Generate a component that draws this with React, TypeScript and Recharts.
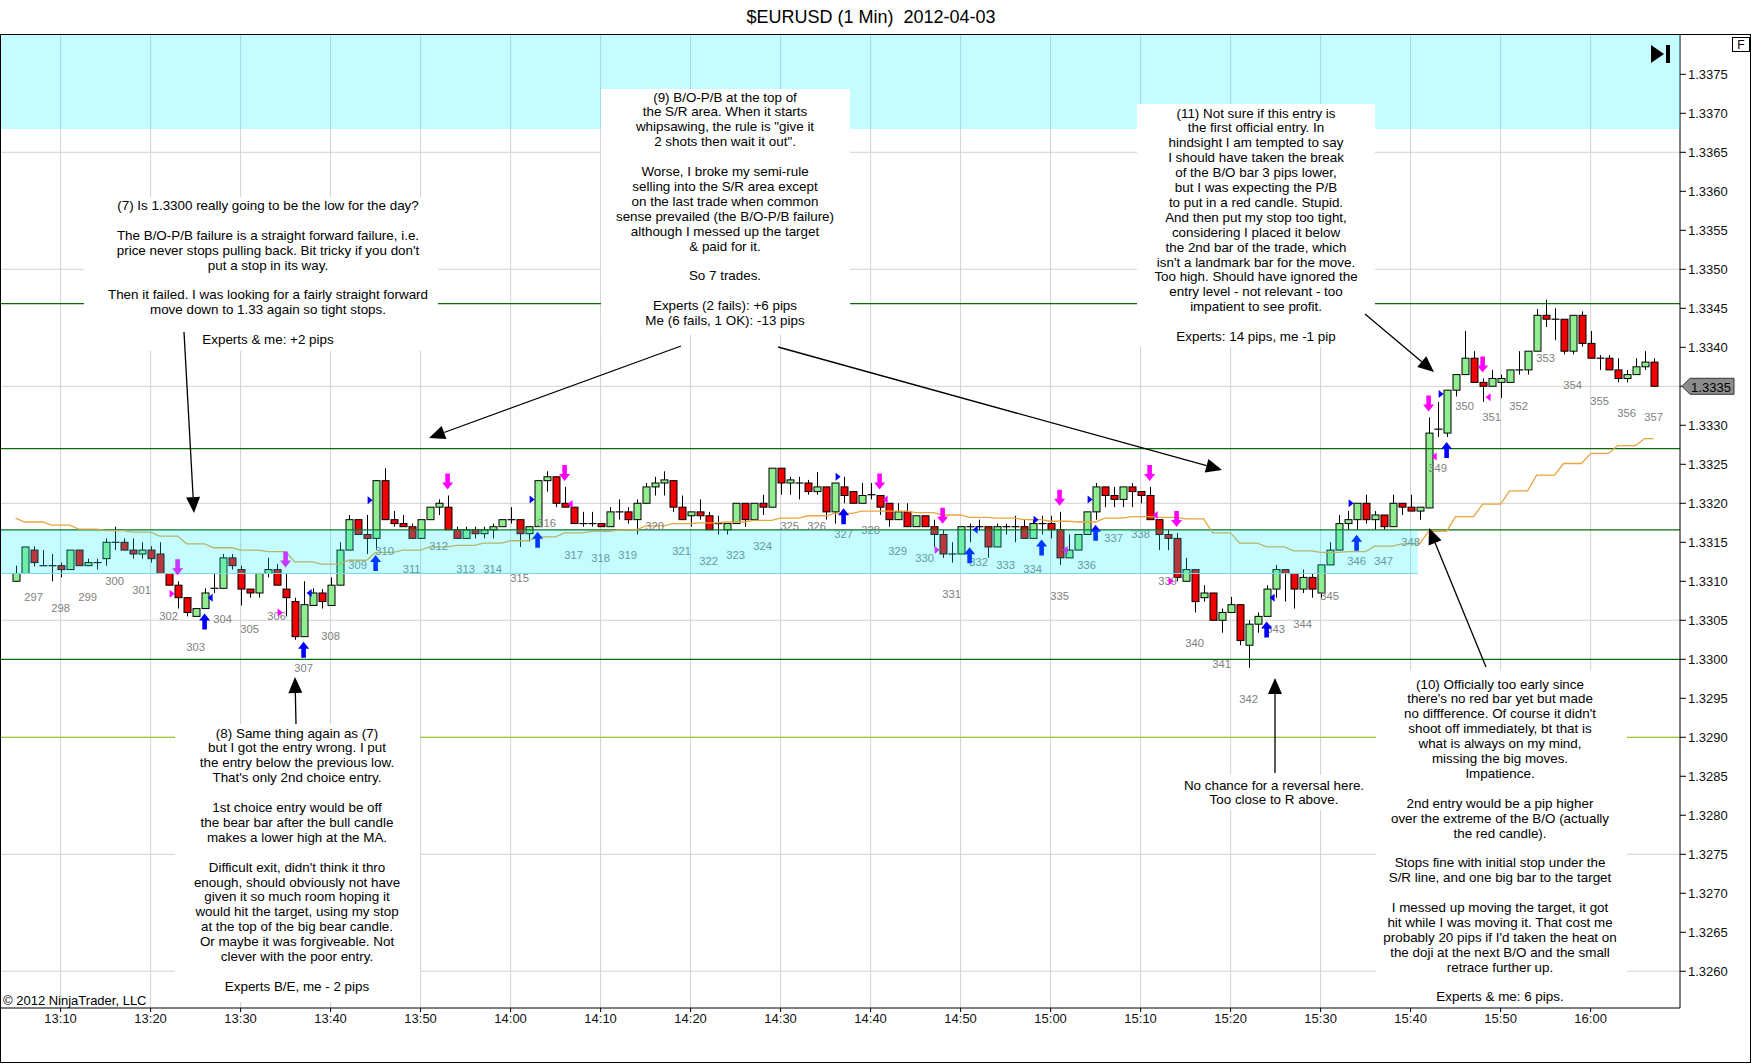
import React from 'react';
import {
  ComposedChart, Bar, Line, Scatter, XAxis, YAxis, CartesianGrid, ReferenceArea, ReferenceLine
} from 'recharts';

// 1-minute bars, first bar at 13:05
const firstMinute = 5;

const opens = [
  1.33100, 1.33110, 1.33140, 1.33120, 1.33120, 1.33120, 1.33115, 1.33140, 1.33120, 1.33124,
  1.33129, 1.33150, 1.33150, 1.33140, 1.33135, 1.33140, 1.33135, 1.33110, 1.33095, 1.33079,
  1.33055, 1.33065, 1.33091, 1.33091, 1.33130, 1.33115, 1.33090, 1.33085, 1.33110, 1.33115,
  1.33090, 1.33074, 1.33029, 1.33069, 1.33085, 1.33069, 1.33095, 1.33140, 1.33179, 1.33160,
  1.33155, 1.33229, 1.33179, 1.33174, 1.33170, 1.33155, 1.33179, 1.33195, 1.33195, 1.33166,
  1.33155, 1.33166, 1.33161, 1.33166, 1.33170, 1.33179, 1.33179, 1.33161, 1.33170, 1.33229,
  1.33234, 1.33200, 1.33195, 1.33174, 1.33174, 1.33174, 1.33170, 1.33189, 1.33189, 1.33179,
  1.33200, 1.33221, 1.33226, 1.33229, 1.33195, 1.33184, 1.33189, 1.33184, 1.33174, 1.33166,
  1.33174, 1.33200, 1.33179, 1.33200, 1.33195, 1.33245, 1.33226, 1.33226, 1.33226, 1.33215,
  1.33221, 1.33189, 1.33221, 1.33215, 1.33200, 1.33211, 1.33210, 1.33200, 1.33179, 1.33189,
  1.33170, 1.33184, 1.33170, 1.33160, 1.33135, 1.33135, 1.33170, 1.33170, 1.33170, 1.33144,
  1.33170, 1.33170, 1.33170, 1.33155, 1.33174, 1.33174, 1.33166, 1.33130, 1.33140, 1.33160,
  1.33189, 1.33221, 1.33210, 1.33205, 1.33221, 1.33215, 1.33210, 1.33179, 1.33160, 1.33155,
  1.33100, 1.33115, 1.33079, 1.33085, 1.33050, 1.33060, 1.33070, 1.33018, 1.33045, 1.33055,
  1.33090, 1.33115, 1.33110, 1.33090, 1.33105, 1.33085, 1.33121, 1.33140, 1.33174, 1.33179,
  1.33200, 1.33179, 1.33185, 1.33170, 1.33200, 1.33195, 1.33190, 1.33194, 1.33295, 1.33290,
  1.33345, 1.33365, 1.33386, 1.33355, 1.33350, 1.33355, 1.33355, 1.33371, 1.33371, 1.33395,
  1.33441, 1.33436, 1.33436, 1.33395, 1.33441, 1.33405, 1.33386, 1.33386, 1.33371, 1.33360,
  1.33365, 1.33375, 1.33381,
];

const highs = [
  1.33120, 1.33144, 1.33145, 1.33140, 1.33135, 1.33124, 1.33140, 1.33140, 1.33129, 1.33129,
  1.33155, 1.33170, 1.33155, 1.33155, 1.33150, 1.33145, 1.33150, 1.33110, 1.33100, 1.33079,
  1.33065, 1.33091, 1.33110, 1.33135, 1.33135, 1.33120, 1.33090, 1.33110, 1.33130, 1.33122,
  1.33110, 1.33079, 1.33100, 1.33091, 1.33090, 1.33105, 1.33150, 1.33185, 1.33179, 1.33185,
  1.33229, 1.33245, 1.33190, 1.33185, 1.33174, 1.33179, 1.33195, 1.33205, 1.33210, 1.33170,
  1.33170, 1.33170, 1.33170, 1.33174, 1.33179, 1.33195, 1.33179, 1.33170, 1.33229, 1.33241,
  1.33234, 1.33221, 1.33195, 1.33189, 1.33189, 1.33174, 1.33195, 1.33205, 1.33195, 1.33205,
  1.33226, 1.33234, 1.33241, 1.33229, 1.33210, 1.33189, 1.33205, 1.33189, 1.33184, 1.33174,
  1.33200, 1.33200, 1.33200, 1.33211, 1.33245, 1.33245, 1.33234, 1.33234, 1.33230, 1.33240,
  1.33221, 1.33226, 1.33234, 1.33215, 1.33226, 1.33226, 1.33210, 1.33200, 1.33200, 1.33200,
  1.33184, 1.33184, 1.33179, 1.33166, 1.33150, 1.33170, 1.33174, 1.33179, 1.33170, 1.33174,
  1.33174, 1.33184, 1.33179, 1.33179, 1.33184, 1.33184, 1.33189, 1.33160, 1.33160, 1.33189,
  1.33226, 1.33221, 1.33221, 1.33221, 1.33226, 1.33215, 1.33221, 1.33179, 1.33166, 1.33162,
  1.33130, 1.33115, 1.33095, 1.33085, 1.33065, 1.33080, 1.33070, 1.33050, 1.33060, 1.33095,
  1.33121, 1.33115, 1.33110, 1.33115, 1.33110, 1.33121, 1.33150, 1.33185, 1.33190, 1.33200,
  1.33211, 1.33190, 1.33185, 1.33211, 1.33200, 1.33211, 1.33195, 1.33310, 1.33330, 1.33345,
  1.33365, 1.33421, 1.33395, 1.33360, 1.33371, 1.33365, 1.33371, 1.33395, 1.33395, 1.33449,
  1.33461, 1.33450, 1.33436, 1.33441, 1.33446, 1.33421, 1.33390, 1.33390, 1.33386, 1.33371,
  1.33386, 1.33395, 1.33386,
];

const lows = [
  1.33100, 1.33110, 1.33119, 1.33120, 1.33100, 1.33105, 1.33115, 1.33120, 1.33120, 1.33115,
  1.33120, 1.33140, 1.33140, 1.33129, 1.33129, 1.33124, 1.33110, 1.33095, 1.33065, 1.33055,
  1.33055, 1.33065, 1.33085, 1.33091, 1.33115, 1.33069, 1.33079, 1.33079, 1.33105, 1.33095,
  1.33055, 1.33025, 1.33029, 1.33069, 1.33065, 1.33069, 1.33095, 1.33140, 1.33160, 1.33135,
  1.33140, 1.33179, 1.33170, 1.33170, 1.33155, 1.33155, 1.33179, 1.33185, 1.33166, 1.33155,
  1.33155, 1.33155, 1.33155, 1.33155, 1.33170, 1.33174, 1.33144, 1.33151, 1.33170, 1.33215,
  1.33195, 1.33195, 1.33174, 1.33170, 1.33170, 1.33170, 1.33170, 1.33179, 1.33174, 1.33160,
  1.33200, 1.33210, 1.33210, 1.33189, 1.33179, 1.33170, 1.33179, 1.33166, 1.33160, 1.33160,
  1.33174, 1.33170, 1.33179, 1.33185, 1.33195, 1.33211, 1.33211, 1.33205, 1.33211, 1.33211,
  1.33179, 1.33174, 1.33200, 1.33200, 1.33200, 1.33205, 1.33185, 1.33170, 1.33179, 1.33170,
  1.33170, 1.33170, 1.33144, 1.33130, 1.33124, 1.33135, 1.33150, 1.33165, 1.33130, 1.33144,
  1.33160, 1.33150, 1.33155, 1.33155, 1.33160, 1.33155, 1.33121, 1.33130, 1.33140, 1.33160,
  1.33179, 1.33195, 1.33195, 1.33195, 1.33195, 1.33200, 1.33179, 1.33140, 1.33140, 1.33100,
  1.33100, 1.33060, 1.33074, 1.33050, 1.33034, 1.33060, 1.33018, 1.32989, 1.33034, 1.33055,
  1.33079, 1.33074, 1.33065, 1.33085, 1.33079, 1.33079, 1.33121, 1.33140, 1.33166, 1.33166,
  1.33174, 1.33166, 1.33166, 1.33170, 1.33185, 1.33190, 1.33179, 1.33194, 1.33285, 1.33285,
  1.33337, 1.33365, 1.33355, 1.33330, 1.33350, 1.33335, 1.33355, 1.33365, 1.33365, 1.33395,
  1.33426, 1.33409, 1.33391, 1.33391, 1.33401, 1.33386, 1.33371, 1.33371, 1.33355, 1.33355,
  1.33365, 1.33371, 1.33350,
];

const closes = [
  1.33110, 1.33144, 1.33124, 1.33120, 1.33120, 1.33115, 1.33140, 1.33120, 1.33124, 1.33124,
  1.33150, 1.33150, 1.33140, 1.33135, 1.33140, 1.33129, 1.33110, 1.33095, 1.33079, 1.33060,
  1.33065, 1.33085, 1.33091, 1.33130, 1.33120, 1.33090, 1.33085, 1.33110, 1.33115, 1.33095,
  1.33079, 1.33029, 1.33070, 1.33085, 1.33074, 1.33095, 1.33140, 1.33179, 1.33160, 1.33155,
  1.33229, 1.33179, 1.33174, 1.33170, 1.33155, 1.33179, 1.33195, 1.33200, 1.33166, 1.33155,
  1.33166, 1.33161, 1.33166, 1.33170, 1.33179, 1.33179, 1.33161, 1.33170, 1.33229, 1.33234,
  1.33200, 1.33195, 1.33174, 1.33174, 1.33174, 1.33170, 1.33189, 1.33189, 1.33179, 1.33200,
  1.33221, 1.33226, 1.33230, 1.33195, 1.33179, 1.33189, 1.33184, 1.33166, 1.33174, 1.33174,
  1.33200, 1.33179, 1.33200, 1.33195, 1.33245, 1.33226, 1.33230, 1.33226, 1.33215, 1.33221,
  1.33189, 1.33226, 1.33210, 1.33200, 1.33210, 1.33211, 1.33195, 1.33179, 1.33189, 1.33170,
  1.33184, 1.33170, 1.33160, 1.33135, 1.33135, 1.33170, 1.33170, 1.33170, 1.33144, 1.33170,
  1.33170, 1.33170, 1.33155, 1.33174, 1.33174, 1.33166, 1.33130, 1.33140, 1.33160, 1.33189,
  1.33221, 1.33210, 1.33205, 1.33221, 1.33215, 1.33210, 1.33179, 1.33160, 1.33155, 1.33105,
  1.33115, 1.33074, 1.33085, 1.33050, 1.33060, 1.33070, 1.33024, 1.33045, 1.33055, 1.33090,
  1.33115, 1.33110, 1.33090, 1.33105, 1.33090, 1.33121, 1.33140, 1.33174, 1.33179, 1.33200,
  1.33179, 1.33185, 1.33170, 1.33200, 1.33195, 1.33190, 1.33195, 1.33290, 1.33295, 1.33345,
  1.33365, 1.33386, 1.33355, 1.33350, 1.33360, 1.33360, 1.33371, 1.33371, 1.33395, 1.33441,
  1.33436, 1.33436, 1.33395, 1.33441, 1.33405, 1.33386, 1.33386, 1.33371, 1.33360, 1.33365,
  1.33375, 1.33381, 1.33350,
];

// moving average (orange line)
const maValues = [
  1.33181, 1.33176, 1.33176, 1.33176, 1.33172, 1.33172, 1.33172, 1.33167, 1.33167, 1.33167,
  1.33165, 1.33165, 1.33165, 1.33163, 1.33163, 1.33163, 1.33158, 1.33158, 1.33158, 1.33148,
  1.33148, 1.33148, 1.33143, 1.33143, 1.33143, 1.33140, 1.33140, 1.33140, 1.33138, 1.33138,
  1.33138, 1.33125, 1.33125, 1.33125, 1.33122, 1.33122, 1.33122, 1.33127, 1.33127, 1.33127,
  1.33137, 1.33137, 1.33137, 1.33140, 1.33140, 1.33140, 1.33144, 1.33144, 1.33144, 1.33146,
  1.33146, 1.33146, 1.33149, 1.33149, 1.33149, 1.33152, 1.33152, 1.33152, 1.33157, 1.33157,
  1.33157, 1.33162, 1.33162, 1.33162, 1.33164, 1.33164, 1.33164, 1.33166, 1.33166, 1.33166,
  1.33171, 1.33171, 1.33171, 1.33174, 1.33174, 1.33174, 1.33175, 1.33175, 1.33175, 1.33176,
  1.33176, 1.33176, 1.33178, 1.33178, 1.33178, 1.33181, 1.33181, 1.33181, 1.33184, 1.33184,
  1.33184, 1.33187, 1.33187, 1.33187, 1.33190, 1.33190, 1.33190, 1.33190, 1.33190, 1.33190,
  1.33188, 1.33188, 1.33188, 1.33185, 1.33185, 1.33185, 1.33182, 1.33182, 1.33182, 1.33181,
  1.33181, 1.33181, 1.33179, 1.33179, 1.33179, 1.33177, 1.33177, 1.33177, 1.33176, 1.33176,
  1.33176, 1.33181, 1.33181, 1.33181, 1.33183, 1.33183, 1.33183, 1.33182, 1.33182, 1.33182,
  1.33180, 1.33180, 1.33180, 1.33162, 1.33162, 1.33162, 1.33149, 1.33149, 1.33149, 1.33144,
  1.33144, 1.33144, 1.33139, 1.33139, 1.33139, 1.33137, 1.33137, 1.33137, 1.33138, 1.33138,
  1.33138, 1.33145, 1.33145, 1.33145, 1.33148, 1.33148, 1.33148, 1.33164, 1.33164, 1.33164,
  1.33183, 1.33183, 1.33183, 1.33199, 1.33199, 1.33199, 1.33216, 1.33216, 1.33216, 1.33236,
  1.33236, 1.33236, 1.33251, 1.33251, 1.33251, 1.33264, 1.33264, 1.33264, 1.33274, 1.33274,
  1.33274, 1.33283, 1.33283,
];

// bar numbers printed under every third bar
const firstNumberedMinute = 7;
const firstBarNumber = 297;

// signal arrows (minute of the bar)
const buyArrowMinutes = [26, 37, 45, 63, 97, 111, 119, 125, 144, 154, 164];
const sellArrowMinutes = [23, 35, 53, 66, 101, 108, 121, 131, 134, 162, 168];

// small fill triangles: minute, price, side of the bar ('L' = left of bar, 'R' = right of bar)
const buyFillMinutes = [26, 37, 45, 63, 97, 111, 119, 125, 144, 154, 164];
const buyFillPrices = [1.33079, 1.33085, 1.33204, 1.33205, 1.33234, 1.33166, 1.33179, 1.33205, 1.33079, 1.33200, 1.33340];
const buyFillSides = ['R', 'R', 'L', 'L', 'L', 'R', 'L', 'L', 'R', 'L', 'L'];
const sellFillMinutes = [23, 35, 66, 101, 108, 121, 131, 134, 162, 168];
const sellFillPrices = [1.33084, 1.33060, 1.33199, 1.33205, 1.33140, 1.33140, 1.33185, 1.33100, 1.33260, 1.33336];
const sellFillSides = ['L', 'L', 'R', 'R', 'L', 'R', 'R', 'L', 'R', 'R'];

// axes
const timeTicks = [10, 20, 30, 40, 50, 60, 70, 80, 90, 100, 110, 120, 130, 140, 150, 160, 170, 180];
const timeLabels = ['13:10', '13:20', '13:30', '13:40', '13:50', '14:00', '14:10', '14:20', '14:30',
  '14:40', '14:50', '15:00', '15:10', '15:20', '15:30', '15:40', '15:50', '16:00'];
const priceTicks = [1.3260, 1.3265, 1.3270, 1.3275, 1.3280, 1.3285, 1.3290, 1.3295, 1.3300, 1.3305,
  1.3310, 1.3315, 1.3320, 1.3325, 1.3330, 1.3335, 1.3340, 1.3345, 1.3350, 1.3355, 1.3360, 1.3365,
  1.3370, 1.3375];
const gridPrices = [1.3260, 1.3275, 1.3290, 1.3305, 1.3320, 1.3335, 1.3350, 1.3365];

// drawn levels and zones
const greenLevels = [1.33456, 1.3327, 1.33166, 1.3300];
const yellowLevel = 1.3290;
const srZone = [1.3311, 1.33166];
const srZoneEndMinute = 160.8;
const upperZoneBottom = 1.3368;

const xDomain = [3.378, 189.933];
const yDomain = [1.325529, 1.338004];

// notes written on the chart
const noteSeven = [
  '(7) Is 1.3300 really going to be the low for the day?', '',
  'The B/O-P/B failure is a straight forward failure, i.e.',
  "price never stops pulling back. Bit tricky if you don't",
  'put a stop in its way.', '',
  'Then it failed. I was looking for a fairly straight forward',
  'move down to 1.33 again so tight stops.', '',
  'Experts & me: +2 pips',
];
const noteNine = [
  '(9) B/O-P/B at the top of', 'the S/R area. When it starts', 'whipsawing, the rule is "give it',
  '2 shots then wait it out".', '', 'Worse, I broke my semi-rule', 'selling into the S/R area except',
  'on the last trade when common', 'sense prevailed (the B/O-P/B failure)',
  'although I messed up the target', '& paid for it.', '', 'So 7 trades.', '',
  'Experts (2 fails): +6 pips', 'Me (6 fails, 1 OK): -13 pips',
];
const noteEleven = [
  '(11) Not sure if this entry is', 'the first official entry. In', 'hindsight I am tempted to say',
  'I should have taken the break', 'of the B/O bar 3 pips lower,', 'but I was expecting the P/B',
  'to put in a red candle. Stupid.', 'And then put my stop too tight,', 'considering I placed it below',
  'the 2nd bar of the trade, which', "isn't a landmark bar for the move.",
  'Too high. Should have ignored the', 'entry level - not relevant - too', 'impatient to see profit.', '',
  'Experts: 14 pips, me -1 pip',
];
const noteEight = [
  '(8) Same thing again as (7)', 'but I got the entry wrong. I put', 'the entry below the previous low.',
  "That's only 2nd choice entry.", '', '1st choice entry would be off', 'the bear bar after the bull candle',
  'makes a lower high at the MA.', '', "Difficult exit, didn't think it thro", 'enough, should obviously not have',
  'given it so much room hoping it', 'would hit the target, using my stop', 'at the top of the big bear candle.',
  'Or maybe it was forgiveable. Not', 'clever with the poor entry.', '', 'Experts B/E, me - 2 pips',
];
const noteChance = ['No chance for a reversal here.', 'Too close to R above.'];
const noteTen = [
  '(10) Officially too early since', "there's no red bar yet but made", "no diffference. Of course it didn't",
  'shoot off immediately, bt that is', 'what is always on my mind,', 'missing the big moves.', 'Impatience.', '',
  '2nd entry would be a pip higher', 'over the extreme of the B/O (actually', 'the red candle).', '',
  'Stops fine with initial stop under the', 'S/R line, and one big bar to the target', '',
  'I messed up moving the target, it got', 'hit while I was moving it. That cost me',
  "probably 20 pips if I'd taken the heat on", 'the doji at the next B/O and the small',
  'retrace further up.', '', 'Experts & me: 6 pips.',
];

const FONT = '"Liberation Sans", Arial, Helvetica, sans-serif';

const bars = opens.map((o, i) => ({
  minute: firstMinute + i,
  open: o,
  high: highs[i],
  low: lows[i],
  close: closes[i],
  range: [lows[i], highs[i]],
  ma: maValues[i],
}));

const numberedBars = bars
  .filter((b) => (b.minute - firstNumberedMinute) % 3 === 0)
  .map((b) => ({ minute: b.minute, price: b.low, label: firstBarNumber + (b.minute - firstNumberedMinute) / 3 }));

const buyPoints = buyArrowMinutes.map((m) => ({ minute: m, price: lows[m - firstMinute] }));
const sellPoints = sellArrowMinutes.map((m) => ({ minute: m, price: highs[m - firstMinute] }));
const buyFills = buyFillMinutes.map((m, i) => ({ minute: m, price: buyFillPrices[i], side: buyFillSides[i] }));
const sellFills = sellFillMinutes.map((m, i) => ({ minute: m, price: sellFillPrices[i], side: sellFillSides[i] }));
const lastClose = closes[closes.length - 1];

const Candle = (props: any) => {
  const { x, y, width, height, payload } = props;
  const { open, close, high, low } = payload;
  const cx = Math.round(x + width / 2) + 0.5;
  const toY = (v: number) => y + ((high - v) / (high - low)) * height;
  const top = toY(Math.max(open, close));
  const bottom = toY(Math.min(open, close));
  return (
    <g>
      <line x1={cx} x2={cx} y1={y} y2={y + height} stroke="#000" strokeWidth={1} />
      {open === close ? (
        <line x1={cx - 4} x2={cx + 4} y1={top} y2={top} stroke="#000" strokeWidth={1.2} />
      ) : (
        <rect x={cx - 3.5} y={top} width={7} height={Math.max(bottom - top, 1)}
          fill={close > open ? '#90EE90' : '#F00000'} stroke="#000" strokeWidth={1} />
      )}
    </g>
  );
};

const BarNumber = (props: any) => (
  <text x={props.cx} y={props.cy + 31} textAnchor="middle" dominantBaseline="central"
    fontSize={11.2} fill="#808080" fontFamily={FONT}>{props.payload.label}</text>
);

const BuyArrow = (props: any) => {
  const { cx, cy } = props;
  const t = cy + 5;
  return (
    <path d={`M${cx},${t} L${cx + 5.5},${t + 7} L${cx + 2.3},${t + 7} L${cx + 2.3},${t + 16} L${cx - 2.3},${t + 16} L${cx - 2.3},${t + 7} L${cx - 5.5},${t + 7} Z`}
      fill="#0000FF" />
  );
};

const SellArrow = (props: any) => {
  const { cx, cy } = props;
  const b = cy - 6;
  return (
    <path d={`M${cx},${b} L${cx + 5.5},${b - 7} L${cx + 2.3},${b - 7} L${cx + 2.3},${b - 16} L${cx - 2.3},${b - 16} L${cx - 2.3},${b - 7} L${cx - 5.5},${b - 7} Z`}
      fill="#FF00FF" />
  );
};

const makeFill = (color: string) => (props: any) => {
  const { cx, cy, payload } = props;
  if (payload.side === 'L') {
    const x0 = cx - 8;
    return <polygon points={`${x0},${cy - 4} ${x0 + 5},${cy} ${x0},${cy + 4}`} fill={color} />;
  }
  const x0 = cx + 8;
  return <polygon points={`${x0},${cy - 4} ${x0 - 5},${cy} ${x0},${cy + 4}`} fill={color} />;
};
const BuyFill = makeFill('#0000FF');
const SellFill = makeFill('#FF00FF');

const PriceTag = (props: any) => {
  const vb = props.viewBox || {};
  const x = vb.x + vb.width;
  const y = vb.y;
  return (
    <g>
      <polygon points={`${x + 2},${y} ${x + 10},${y - 8} ${x + 54},${y - 8} ${x + 54},${y + 8} ${x + 10},${y + 8}`}
        fill="#8C8C8C" stroke="#333" strokeWidth={1} />
      <text x={x + 31} y={y + 1} textAnchor="middle" dominantBaseline="central" fontSize={13}
        fontFamily={FONT} fill="#000">{lastClose.toFixed(4)}</text>
    </g>
  );
};

const notes = [
  { lines: noteSeven, box: [84, 197, 354, 154], cx: 268, top: 205.5 },
  { lines: noteNine, box: [601, 89, 249, 246], cx: 725, top: 97 },
  { lines: noteEleven, box: [1137, 104, 238, 243], cx: 1256, top: 113 },
  { lines: noteEight, box: [175, 724, 245, 278], cx: 297, top: 733 },
  { lines: noteChance, box: [1182, 775, 186, 35], cx: 1274, top: 785 },
  { lines: noteTen, box: [1376, 670, 251, 337], cx: 1500, top: 684 },
];

const pointers = [
  [184, 332, 194, 513],
  [681, 346, 429, 438],
  [778, 347, 1222, 470],
  [1365, 314, 1434, 372],
  [296, 724, 295, 677],
  [1275, 773, 1275, 678],
  [1486, 667, 1429, 528],
];

const Pointer = ({ p }: { p: number[] }) => {
  const [x1, y1, x2, y2] = p;
  const len = Math.hypot(x2 - x1, y2 - y1);
  const ux = (x2 - x1) / len;
  const uy = (y2 - y1) / len;
  const head = 16;
  const half = 7;
  const bx = x2 - ux * head;
  const by = y2 - uy * head;
  return (
    <g>
      <line x1={x1} y1={y1} x2={bx} y2={by} stroke="#000" strokeWidth={1.3} />
      <polygon points={`${x2},${y2} ${bx - uy * half},${by + ux * half} ${bx + uy * half},${by - ux * half}`} fill="#000" />
    </g>
  );
};

const Overlay = () => (
  <svg width={1752} height={1064} style={{ position: 'absolute', left: 0, top: 0, pointerEvents: 'none' }}>
    <rect x={0.5} y={34.5} width={1750} height={1028} fill="none" stroke="#000" strokeWidth={1} />
    <text x={871} y={17} textAnchor="middle" dominantBaseline="central" fontSize={18} fontFamily={FONT}
      fill="#000" style={{ whiteSpace: 'pre' }}>{'$EURUSD (1 Min)  2012-04-03'}</text>
    <rect x={1732.5} y={37.5} width={17} height={14} fill="#fff" stroke="#000" />
    <text x={1741} y={45} textAnchor="middle" dominantBaseline="central" fontSize={12} fontFamily={FONT}>F</text>
    <polygon points="1651,45 1664,54 1651,63" fill="#000" />
    <rect x={1666} y={45} width={4} height={18} fill="#000" />
    <text x={3} y={1000} dominantBaseline="central" fontSize={13} fontFamily={FONT} fill="#000">© 2012 NinjaTrader, LLC</text>
    {notes.map((n, i) => (
      <g key={i}>
        <rect x={n.box[0]} y={n.box[1]} width={n.box[2]} height={n.box[3]} fill="#fff" />
        {n.lines.map((t, j) => (
          <text key={j} x={n.cx} y={n.top + j * 14.9} textAnchor="middle" dominantBaseline="central"
            fontSize={13.4} fontFamily={FONT} fill="#000">{t}</text>
        ))}
      </g>
    ))}
    {pointers.map((p, i) => <Pointer key={i} p={p} />)}
  </svg>
);

const App: React.FC = () => {
  return (
    <div style={{ position: 'absolute', left: 0, top: 0, width: 1752, height: 1064, background: '#fff', fontFamily: FONT }}>
      <ComposedChart width={1752} height={1064} data={bars} margin={{ top: 35, right: 0, bottom: 0, left: 1 }}>
        <CartesianGrid stroke="#D2D2D2" horizontalValues={gridPrices} verticalValues={timeTicks} />
        <XAxis
          dataKey="minute" type="number" domain={xDomain} ticks={timeTicks} interval={0} allowDataOverflow
          tickFormatter={(v: number) => timeLabels[timeTicks.indexOf(v)]}
          height={56} tickSize={4} tickMargin={2}
          tick={{ fill: '#111', fontSize: 13, fontFamily: FONT }}
          tickLine={{ stroke: '#000' }} axisLine={{ stroke: '#000' }}
        />
        <YAxis
          orientation="right" type="number" domain={yDomain} ticks={priceTicks} interval={0} allowDataOverflow
          tickFormatter={(v: number) => (Math.abs(v - lastClose) < 1e-7 ? '' : v.toFixed(4))}
          width={72} tickSize={6} tickMargin={2}
          tick={{ fill: '#111', fontSize: 13, fontFamily: FONT }}
          tickLine={{ stroke: '#000' }} axisLine={{ stroke: '#000' }}
        />
        {greenLevels.map((lv) => (
          <ReferenceLine key={lv} y={lv} stroke="#0B6A0B" strokeWidth={1.2} />
        ))}
        <ReferenceLine y={yellowLevel} stroke="#9ACD32" strokeWidth={1.2} />
        <ReferenceLine segment={[{ x: xDomain[0], y: srZone[0] }, { x: srZoneEndMinute, y: srZone[0] }]}
          stroke="#8AD6E2" strokeWidth={1} />
        <Line dataKey="ma" type="linear" stroke="#E9A53F" strokeWidth={1.3} dot={false} isAnimationActive={false} />
        <Bar dataKey="range" shape={Candle} barSize={7} isAnimationActive={false} />
        <Scatter data={numberedBars} dataKey="price" shape={BarNumber} isAnimationActive={false} />
        <Scatter data={buyPoints} dataKey="price" shape={BuyArrow} isAnimationActive={false} />
        <Scatter data={sellPoints} dataKey="price" shape={SellArrow} isAnimationActive={false} />
        <Scatter data={buyFills} dataKey="price" shape={BuyFill} isAnimationActive={false} />
        <Scatter data={sellFills} dataKey="price" shape={SellFill} isAnimationActive={false} />
        <ReferenceArea x1={xDomain[0]} x2={srZoneEndMinute} y1={srZone[0]} y2={srZone[1]}
          fill="#00F0FF" fillOpacity={0.23} stroke="none" zIndex={1000} />
        <ReferenceArea x1={xDomain[0]} x2={xDomain[1]} y1={upperZoneBottom} y2={yDomain[1]}
          fill="#00F0FF" fillOpacity={0.23} stroke="none" zIndex={1000} />
        <ReferenceLine y={lastClose} stroke="none" label={<PriceTag />} zIndex={1100} />
      </ComposedChart>
      <Overlay />
    </div>
  );
};

export default App;
